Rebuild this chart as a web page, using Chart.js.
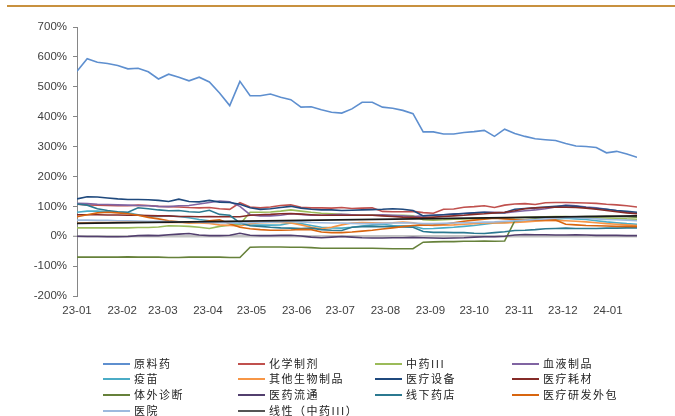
<!DOCTYPE html>
<html>
<head>
<meta charset="utf-8">
<script src="https://cdn.jsdelivr.net/npm/chart.js@4.4.1/dist/chart.umd.min.js"></script>
<style>
  body { margin: 0; background: #fff; }
  #wrap { position: relative; width: 675px; height: 416px; overflow: hidden; }
  #topline { position: absolute; left: 7px; top: 5px; width: 668px; height: 2px; background: #C8913F; }
  #chart { position: absolute; left: 0; top: 0; }
  #legend { position: absolute; left: 0; top: 0; width: 675px; height: 416px; pointer-events: none;
            font-family: "Noto Sans CJK SC", sans-serif; font-size: 11px; letter-spacing: 1.5px; color: #222; }
  .item { position: absolute; height: 14px; line-height: 14px; white-space: nowrap; }
  .item i { display: inline-block; width: 27px; height: 2px; vertical-align: middle; margin-right: 4px; position: relative; top: -1px; }
</style>
</head>
<body>
<div id="wrap">
  <canvas id="chart" width="675" height="330"></canvas>
  <div id="topline"></div>
  <div id="legend"></div>
</div>
<script>
// weekly dates
const dates = [
  '2023-01-01','2023-01-08','2023-01-15','2023-01-22','2023-01-29',
  '2023-02-05','2023-02-12','2023-02-19','2023-02-26',
  '2023-03-05','2023-03-12','2023-03-19','2023-03-26',
  '2023-04-02','2023-04-09','2023-04-16','2023-04-23','2023-04-30',
  '2023-05-07','2023-05-14','2023-05-21','2023-05-28',
  '2023-06-04','2023-06-11','2023-06-18','2023-06-25',
  '2023-07-02','2023-07-09','2023-07-16','2023-07-23','2023-07-30',
  '2023-08-06','2023-08-13','2023-08-20','2023-08-27',
  '2023-09-03','2023-09-10','2023-09-17','2023-09-24',
  '2023-10-01','2023-10-08','2023-10-15','2023-10-22','2023-10-29',
  '2023-11-05','2023-11-12','2023-11-19','2023-11-26',
  '2023-12-03','2023-12-10','2023-12-17','2023-12-24','2023-12-31',
  '2024-01-07','2024-01-14','2024-01-21'
];
const monthTicks = ['2023-01-01','2023-02-01','2023-03-01','2023-04-01','2023-05-01','2023-06-01',
  '2023-07-01','2023-08-01','2023-09-01','2023-10-01','2023-11-01','2023-12-01','2024-01-01'];
const yTicks = [-200, -100, 0, 100, 200, 300, 400, 500, 600, 700];

// series values, %
const apiData = [552,594,582,578,571,560,562,550,526,542,532,520,532,516,479,437,518,470,470,476,465,457,432,433,423,415,412,426,448,448,432,428,421,410,349,349,342,342,347,350,354,334,358,344,334,326,323,320,310,302,300,297,279,284,275,264];
const chemDrug = [107,105,104,103,102,102,104,103,100,99,98,96,95,96,92,90,112,98,95,98,103,105,97,95,95,94,96,93,94,95,83,82,82,83,79,77,90,91,97,99,102,96,104,108,109,106,112,113,113,112,111,110,107,105,102,98];
const tcm3 = [28,28,28,28,28,28,29,29,31,35,34,33,30,26,33,37,40,80,80,81,84,88,84,80,77,75,73,72,71,72,70,69,70,68,55,54,55,57,58,59,60,60,61,62,63,64,65,66,66,64,63,62,61,60,58,57];
const bloodProd = [110,109,107,106,105,104,103,102,100,99,102,103,108,113,118,115,100,72,68,68,70,75,73,70,70,72,73,72,70,70,72,70,68,66,68,70,72,74,76,78,80,80,78,82,85,88,92,98,104,102,98,95,90,85,80,76];
const vaccine = [80,84,84,82,80,78,72,66,66,68,66,62,56,52,49,46,42,38,37,37,38,44,42,36,30,28,27,30,34,38,40,36,35,34,25,26,28,30,33,36,40,44,46,48,52,53,54,56,60,58,56,52,48,45,42,40];
const otherBio = [44,45,46,46,47,47,48,48,47,46,46,45,44,43,38,36,34,42,45,46,46,44,38,30,25,30,38,44,46,45,44,45,47,45,38,36,37,38,40,42,44,45,44,46,48,50,52,53,52,50,48,45,42,40,38,36];
const devices = [125,132,131,128,125,123,123,122,120,116,124,116,115,120,114,113,107,95,90,92,96,100,94,90,88,88,86,87,88,89,90,92,90,86,68,70,72,74,76,78,80,78,79,90,93,95,98,100,102,100,96,93,90,86,83,80];
const consumables = [72,72,72,71,71,70,70,69,68,68,66,66,65,66,65,65,65,70,72,73,75,76,74,72,70,70,70,70,70,70,68,66,64,63,62,64,66,68,70,73,75,78,80,85,92,95,96,97,97,96,94,90,86,82,78,75];
const ivd = [-70,-70,-70,-70,-70,-69,-70,-70,-70,-71,-71,-70,-70,-70,-70,-71,-71,-37,-36,-36,-36,-37,-37,-38,-40,-40,-40,-40,-40,-40,-41,-42,-42,-42,-20,-19,-18,-18,-17,-17,-16,-17,-16,52,55,58,60,62,64,65,66,66,67,66,65,64];
const distribution = [0,-1,-1,-2,-2,-1,2,3,2,5,7,9,4,2,2,3,10,3,2,2,3,3,1,-3,-5,-3,-1,-3,-5,-6,-6,-5,-5,-4,-5,-6,-7,-6,-5,-3,-2,-2,0,4,6,5,5,4,4,5,4,3,3,3,2,2];
const pharmacy = [108,104,92,86,82,80,95,92,88,85,86,82,80,87,73,70,45,35,33,30,28,27,26,27,22,20,19,30,32,33,32,32,31,30,16,13,13,12,12,10,9,12,15,19,20,22,25,26,27,26,26,26,27,27,28,28];
const cro = [65,72,78,80,78,75,70,63,58,52,48,45,47,52,55,42,30,25,22,20,20,21,23,22,14,12,12,14,17,20,24,28,32,36,37,38,40,45,50,54,57,60,58,56,55,54,55,54,40,38,36,35,34,33,33,32];
const hospital = [54,54,53,53,52,52,51,50,50,49,48,48,47,46,45,44,44,45,46,47,48,50,48,46,45,44,44,43,42,42,43,44,45,44,42,42,43,44,45,46,47,48,50,52,54,56,58,60,62,62,60,58,56,55,54,52];
const trendEnds = [43, 68];

const names = ['原料药','化学制剂','中药III','血液制品','疫苗','其他生物制品','医疗设备','医疗耗材',
  '体外诊断','医药流通','线下药店','医疗研发外包','医院','线性（中药III）'];
const colors = ['#5E8FCF','#C0504D','#9BBB59','#8064A2','#4BACC6','#F79646','#1F497D','#852B28',
  '#66813A','#523F6E','#2B7990','#D8650F','#9DB9DE','#1a1a1a'];
const series = [apiData, chemDrug, tcm3, bloodProd, vaccine, otherBio, devices, consumables,
  ivd, distribution, pharmacy, cro, hospital];

const day0 = Date.UTC(2023, 0, 1);
const dayNum = s => { const p = s.split('-').map(Number); return (Date.UTC(p[0], p[1] - 1, p[2]) - day0) / 86400000; };
const tickDays = monthTicks.map(dayNum);
const lastDay = dayNum(dates[dates.length - 1]);

const datasets = series.map((vals, i) => ({
  label: names[i],
  data: dates.map((d, j) => ({ x: dayNum(d), y: vals[j] })),
  borderColor: colors[i],
  borderWidth: 1.6,
  pointRadius: 0,
  tension: 0,
  order: -i,
}));
datasets.push({
  label: names[13],
  data: [{ x: dayNum(dates[0]), y: trendEnds[0] }, { x: lastDay, y: trendEnds[1] }],
  borderColor: colors[13],
  borderWidth: 1.8,
  pointRadius: 0,
  order: -20,
});

const axisFont = { family: '"Liberation Sans", Arial, sans-serif', size: 11.5 };

new Chart(document.getElementById('chart').getContext('2d'), {
  type: 'line',
  data: { datasets },
  options: {
    responsive: false,
    animation: false,
    devicePixelRatio: 1,
    layout: { padding: { left: 0, top: 27, right: 38, bottom: 0 } },
    plugins: { legend: { display: false }, tooltip: { enabled: false } },
    scales: {
      x: {
        type: 'linear',
        min: 0,
        max: lastDay,
        afterBuildTicks: (axis) => { axis.ticks = tickDays.map(v => ({ value: v })); },
        afterFit: (axis) => { axis.height = 34; },
        ticks: {
          autoSkip: false,
          maxRotation: 0,
          padding: 8,
          color: '#404040',
          font: axisFont,
          callback: (v) => { const k = tickDays.indexOf(v); return k < 0 ? '' : monthTicks[k].slice(2, 7); },
        },
        grid: { display: false, drawTicks: false },
        border: { display: false },
      },
      y: {
        min: yTicks[0],
        max: yTicks[yTicks.length - 1],
        afterBuildTicks: (axis) => { axis.ticks = yTicks.map(v => ({ value: v })); },
        afterFit: (axis) => { axis.width = 77; },
        ticks: {
          padding: 6,
          color: '#404040',
          font: axisFont,
          callback: (v) => v + '%',
        },
        grid: {
          drawOnChartArea: true,
          color: (c) => c.tick && c.tick.value === 0 ? '#C4C4C4' : 'rgba(0,0,0,0)',
          lineWidth: (c) => c.tick && c.tick.value === 0 ? 2.5 : 1,
          tickColor: '#868686',
          tickLength: 4,
          tickWidth: 1,
        },
        border: { display: true, color: '#868686', width: 1 },
      },
    },
  },
});

// legend, 4 columns
const legendCols = [103, 238, 375, 512];
const legendRows = [356, 371, 387, 403];
const legendColors = colors.slice(0, 13).concat(['#555555']);
const legendEl = document.getElementById('legend');
names.forEach((n, i) => {
  const el = document.createElement('div');
  el.className = 'item';
  el.style.left = legendCols[i % 4] + 'px';
  el.style.top = legendRows[Math.floor(i / 4)] + 'px';
  el.innerHTML = '<i style="background:' + legendColors[i] + '"></i>' + n;
  legendEl.appendChild(el);
});
</script>
</body>
</html>
